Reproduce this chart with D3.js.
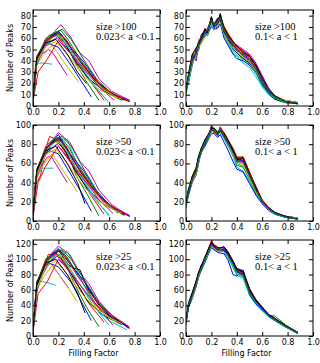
<!DOCTYPE html>
<html>
<head>
<meta charset="utf-8">
<script src="https://cdn.jsdelivr.net/npm/d3@7"></script>
<style>
  body { margin: 0; background: #fff; }
  svg { display: block; }
  .tick text { font-family: "DejaVu Sans", sans-serif; font-size: 8px; fill: #000; }
  .tick line { stroke: #000; }
</style>
</head>
<body>
<div id="chart"></div>
<script>
// matplotlib classic colour cycle
const lineColors = ['#0000ff', '#008000', '#ff0000', '#00bfbf', '#bf00bf', '#bfbf00', '#000000'];

// left column: 0.023 < a < 0.1, each line is [filling factor, number of peaks]
const lowA100 = [
  [[0,4],[0.02,33],[0.05,44],[0.1,55],[0.15,61],[0.21,65],[0.26,58],[0.32,47],[0.4,36],[0.5,20],[0.6,11],[0.76,4]],
  [[0,5],[0.02,34],[0.05,43],[0.1,58],[0.15,62],[0.21,63],[0.27,52],[0.35,35],[0.43,20],[0.52,5]],
  [[0,6],[0.02,35],[0.05,44],[0.09,56],[0.13,63],[0.19,62],[0.26,52],[0.35,38],[0.45,22],[0.56,5]],
  [[0,3],[0.03,38],[0.09,38],[0.15,37]],
  [[0,4],[0.03,39],[0.07,46],[0.12,50],[0.15,48],[0.27,27]],
  [[0,5],[0.03,37],[0.08,45],[0.15,54],[0.25,38],[0.36,21]],
  [[0,5],[0.03,41],[0.07,47],[0.12,58],[0.18,63],[0.25,56],[0.33,40],[0.43,25],[0.55,14],[0.7,5]],
  [[0,5],[0.03,43],[0.06,45],[0.1,53],[0.13,55],[0.2,52],[0.3,36],[0.38,22],[0.46,8]],
  [[0,6],[0.03,41],[0.08,52],[0.15,63],[0.22,67],[0.28,58],[0.38,40],[0.5,22],[0.6,12],[0.7,6]],
  [[0,4],[0.04,30],[0.11,41],[0.2,58],[0.3,46],[0.42,31],[0.55,16],[0.65,9],[0.76,4]],
  [[0,5],[0.03,39],[0.1,55],[0.17,62],[0.22,61],[0.3,48],[0.42,28],[0.52,13],[0.6,3]],
  [[0,6],[0.03,42],[0.1,57],[0.17,66],[0.22,72],[0.29,62],[0.37,47],[0.44,40],[0.52,24],[0.62,13],[0.76,5]],
  [[0,4],[0.03,40],[0.1,56],[0.17,63],[0.23,60],[0.33,44],[0.45,27],[0.55,15],[0.67,7]],
  [[0,6],[0.03,44],[0.1,58],[0.2,66],[0.28,55],[0.38,38],[0.48,24],[0.6,13],[0.72,5]],
  [[0,5],[0.03,40],[0.1,57],[0.15,62],[0.21,65],[0.28,54],[0.4,39],[0.52,20],[0.64,10],[0.76,5]],
  [[0,5],[0.03,41],[0.1,60],[0.17,65],[0.23,68],[0.3,59],[0.4,41],[0.5,24],[0.6,13],[0.67,6]],
  [[0,5],[0.03,39],[0.1,58],[0.2,64],[0.26,59],[0.35,43],[0.45,29],[0.55,16],[0.65,10],[0.76,4]],
  [[0,4],[0.03,38],[0.1,54],[0.2,62],[0.25,58],[0.35,40],[0.48,18],[0.58,5]],
  [[0,5],[0.03,37],[0.1,54],[0.19,60],[0.3,46],[0.42,30],[0.52,17],[0.64,5]],
  [[0,5],[0.03,39],[0.1,53],[0.18,57],[0.28,44],[0.4,27],[0.5,16],[0.6,10],[0.7,6]],
  [[0,5],[0.03,42],[0.1,56],[0.18,59],[0.27,46],[0.35,30],[0.42,20]]
];

const lowA50 = [
  [[0,5],[0.02,42],[0.05,55],[0.1,70],[0.15,80],[0.21,86],[0.26,78],[0.32,62],[0.4,48],[0.5,28],[0.6,15],[0.76,5]],
  [[0,6],[0.02,43],[0.05,54],[0.1,74],[0.15,82],[0.2,84],[0.27,70],[0.35,45],[0.43,27],[0.52,5]],
  [[0,6],[0.03,40],[0.06,48],[0.1,75],[0.13,88],[0.19,85],[0.26,70],[0.35,50],[0.45,28],[0.56,7]],
  [[0,4],[0.03,45],[0.07,55],[0.16,55]],
  [[0,5],[0.03,48],[0.07,58],[0.11,66],[0.14,68],[0.27,40]],
  [[0,5],[0.03,47],[0.08,58],[0.15,70],[0.25,50],[0.35,30]],
  [[0,6],[0.03,50],[0.07,60],[0.12,75],[0.18,84],[0.25,74],[0.33,53],[0.43,33],[0.55,18],[0.72,6]],
  [[0,5],[0.03,52],[0.06,58],[0.1,70],[0.13,73],[0.2,70],[0.3,48],[0.38,30],[0.46,10]],
  [[0,6],[0.03,51],[0.08,68],[0.15,82],[0.22,87],[0.28,77],[0.38,53],[0.5,30],[0.6,17],[0.7,8]],
  [[0,4],[0.04,40],[0.1,57],[0.2,78],[0.3,62],[0.42,40],[0.55,21],[0.65,12],[0.76,5]],
  [[0,5],[0.03,50],[0.1,72],[0.17,82],[0.27,85],[0.32,68],[0.42,38],[0.52,18],[0.6,5]],
  [[0,6],[0.03,53],[0.1,75],[0.17,87],[0.2,92],[0.29,82],[0.37,62],[0.44,52],[0.52,32],[0.62,17],[0.76,5]],
  [[0,4],[0.03,50],[0.1,73],[0.17,83],[0.23,80],[0.33,58],[0.45,36],[0.55,20],[0.67,9]],
  [[0,6],[0.03,54],[0.1,76],[0.2,87],[0.28,72],[0.38,50],[0.48,32],[0.6,17],[0.72,7]],
  [[0,5],[0.03,50],[0.1,74],[0.15,82],[0.2,90],[0.28,72],[0.4,52],[0.52,27],[0.64,13],[0.76,6]],
  [[0,5],[0.03,51],[0.1,78],[0.17,86],[0.23,88],[0.3,78],[0.4,54],[0.5,32],[0.6,17],[0.67,8]],
  [[0,5],[0.03,49],[0.1,76],[0.2,85],[0.26,78],[0.35,57],[0.45,38],[0.55,21],[0.65,13],[0.76,5]],
  [[0,4],[0.03,48],[0.1,70],[0.2,82],[0.25,77],[0.35,52],[0.48,24],[0.6,6]],
  [[0,5],[0.03,47],[0.1,70],[0.19,80],[0.3,60],[0.42,40],[0.52,22],[0.63,8]],
  [[0,5],[0.03,49],[0.1,69],[0.18,75],[0.28,58],[0.4,36],[0.5,22],[0.6,14],[0.7,8]],
  [[0,5],[0.03,52],[0.1,73],[0.18,78],[0.27,60],[0.35,40],[0.41,18]]
];

const lowA25 = [
  [[0,6],[0.02,50],[0.05,70],[0.1,90],[0.15,100],[0.2,112],[0.26,104],[0.32,88],[0.4,72],[0.5,45],[0.6,27],[0.76,10]],
  [[0,7],[0.02,52],[0.04,72],[0.1,95],[0.15,104],[0.2,106],[0.27,88],[0.35,60],[0.43,35],[0.52,12]],
  [[0,7],[0.03,60],[0.07,85],[0.12,106],[0.19,107],[0.26,92],[0.35,68],[0.45,40],[0.56,18]],
  [[0,5],[0.03,72],[0.1,70],[0.18,66]],
  [[0,6],[0.03,62],[0.07,78],[0.11,90],[0.14,95],[0.28,62]],
  [[0,6],[0.03,60],[0.08,76],[0.15,92],[0.25,70],[0.35,44]],
  [[0,7],[0.03,64],[0.07,80],[0.12,98],[0.18,108],[0.25,96],[0.33,72],[0.43,45],[0.55,27],[0.7,15]],
  [[0,6],[0.03,66],[0.06,75],[0.1,92],[0.13,95],[0.2,90],[0.3,70],[0.38,45],[0.46,20]],
  [[0,7],[0.03,65],[0.08,88],[0.15,105],[0.22,112],[0.28,100],[0.38,72],[0.5,40],[0.6,24],[0.7,15]],
  [[0,5],[0.04,55],[0.11,70],[0.2,100],[0.3,82],[0.42,56],[0.55,32],[0.65,20],[0.76,12]],
  [[0,6],[0.03,64],[0.1,92],[0.17,104],[0.27,110],[0.32,95],[0.42,60],[0.52,30],[0.6,14]],
  [[0,7],[0.03,68],[0.1,98],[0.17,112],[0.2,117],[0.29,106],[0.37,82],[0.44,68],[0.52,45],[0.62,27],[0.75,10]],
  [[0,5],[0.03,64],[0.1,94],[0.17,106],[0.23,102],[0.33,76],[0.45,48],[0.55,30],[0.67,16]],
  [[0,7],[0.03,70],[0.1,98],[0.2,112],[0.28,92],[0.33,88],[0.37,86],[0.43,62],[0.52,40],[0.6,26],[0.72,15]],
  [[0,6],[0.03,64],[0.1,96],[0.15,106],[0.2,114],[0.28,96],[0.4,72],[0.52,42],[0.64,24],[0.76,10]],
  [[0,6],[0.03,66],[0.1,100],[0.17,110],[0.23,112],[0.3,100],[0.4,74],[0.5,48],[0.6,28],[0.67,18]],
  [[0,6],[0.03,62],[0.1,98],[0.2,110],[0.26,102],[0.35,78],[0.45,56],[0.55,36],[0.65,24],[0.75,13]],
  [[0,5],[0.03,61],[0.1,92],[0.2,106],[0.25,100],[0.35,72],[0.48,38],[0.6,20],[0.74,8]],
  [[0,6],[0.03,60],[0.1,92],[0.19,104],[0.3,82],[0.42,56],[0.52,36],[0.63,14]],
  [[0,6],[0.03,62],[0.1,90],[0.18,98],[0.28,78],[0.4,52],[0.5,36],[0.6,24],[0.7,16]],
  [[0,6],[0.03,66],[0.1,95],[0.18,100],[0.27,80],[0.35,56],[0.41,30]]
];

// right column: 0.1 < a < 1, all lines share one filling factor grid
const ffGrid = [0, 0.02, 0.05, 0.08, 0.1, 0.12, 0.15, 0.17, 0.2, 0.22, 0.25, 0.27, 0.3, 0.33, 0.37, 0.4, 0.45, 0.5, 0.55, 0.6, 0.65, 0.7, 0.78, 0.88];

const highA100 = [
  [13,27,44,40,57,58,66,63,77,70,72,80,69,63,55,50,47,44,36,24,14,8,4,3],
  [16,21,38,49,51,61,63,67,73,72,77,76,62,57,50,48,42,38,31,20,12,7,4,2],
  [10,28,46,43,58,56,68,66,78,68,70,81,70,64,57,53,49,45,37,26,15,9,5,3],
  [18,20,36,47,50,59,62,62,71,71,74,74,62,55,47,44,38,34,26,17,10,6,3,2],
  [14,29,45,42,55,60,69,64,76,73,78,77,66,61,56,54,50,46,38,27,16,9,4,3],
  [9,25,40,46,59,57,62,70,72,74,71,78,71,65,58,53,45,40,31,20,13,7,4,2],
  [16,24,37,50,52,63,67,66,79,69,73,82,66,59,51,47,42,38,30,19,11,6,3,2],
  [12,22,43,44,50,60,61,65,70,68,69,73,60,54,46,42,40,36,29,19,12,7,4,2],
  [15,27,39,48,56,57,66,63,75,72,76,79,67,62,54,51,44,40,32,21,13,8,4,3],
  [19,23,44,52,53,62,64,68,78,69,74,78,70,64,57,52,47,43,35,24,14,8,5,3],
  [11,21,42,45,51,56,65,67,73,67,72,76,64,57,49,45,41,37,29,18,11,7,3,2],
  [15,26,41,48,57,62,64,69,76,73,75,79,68,62,55,51,44,40,34,23,13,8,4,3],
  [14,23,38,44,53,55,61,64,74,70,71,75,63,57,51,48,43,39,31,22,14,9,5,3],
  [12,28,46,51,56,60,68,65,79,71,77,80,69,63,57,53,48,44,36,25,15,9,4,2],
  [17,25,41,46,54,59,64,66,75,70,73,77,65,60,53,49,46,42,33,22,13,8,4,2],
  [13,26,43,47,55,58,65,67,76,72,74,78,67,60,54,50,45,41,34,23,14,8,4,3]
];

const highA50 = [
  [17,31,45,50,65,72,83,86,96,93,90,97,91,82,71,63,65,49,33,21,13,8,5,2],
  [14,33,41,56,68,71,85,84,98,92,93,93,87,79,69,58,56,43,29,19,12,7,4,2],
  [20,28,47,49,61,76,79,89,95,97,88,98,92,85,75,66,67,51,36,22,14,9,5,3],
  [15,32,42,54,69,70,85,85,93,96,92,92,86,79,67,56,52,41,28,18,12,7,4,2],
  [19,27,40,48,66,75,80,84,98,93,89,96,90,84,74,65,62,46,34,20,13,8,5,2],
  [13,31,47,57,63,70,83,88,94,97,93,97,91,81,70,61,60,45,31,20,12,8,4,2],
  [18,34,42,51,67,74,84,85,99,94,90,94,91,80,73,65,66,50,36,21,14,8,5,3],
  [16,28,41,48,61,71,78,83,91,91,87,90,82,74,62,54,51,39,27,18,11,7,4,2],
  [18,32,45,54,64,75,81,88,97,96,93,97,88,83,74,64,65,47,34,21,13,8,5,2],
  [21,29,46,55,67,72,84,89,96,93,89,96,92,85,76,67,66,51,35,22,14,9,5,3],
  [14,27,43,50,63,73,80,84,94,92,88,95,86,78,69,60,57,44,30,19,12,7,4,2],
  [17,30,44,53,66,73,83,87,97,96,90,98,88,82,71,62,61,46,33,20,13,8,5,2],
  [16,31,40,49,62,70,82,85,93,95,91,92,89,80,69,61,58,45,31,20,13,8,5,3],
  [19,33,47,55,68,76,85,89,96,97,92,95,91,84,74,64,65,49,34,21,14,9,5,2],
  [17,29,43,52,64,72,81,86,95,94,90,94,88,81,72,62,63,47,33,20,13,8,5,2],
  [16,30,44,51,65,74,82,87,96,94,91,96,89,82,71,63,62,48,32,21,13,8,4,2]
];

const highA25 = [
  [18,41,52,69,79,89,99,109,121,115,114,111,113,105,94,84,81,58,45,36,27,22,13,4],
  [15,43,51,72,84,86,103,106,118,116,111,114,109,103,91,81,77,55,42,33,26,21,12,4],
  [21,37,56,65,78,92,98,111,122,118,115,110,114,109,97,87,84,61,48,37,28,23,14,5],
  [16,42,50,70,82,85,102,105,117,113,110,113,110,102,89,79,75,53,41,33,25,20,12,4],
  [20,38,55,66,77,90,101,110,123,117,112,112,115,108,96,86,82,60,47,36,27,22,13,4],
  [14,44,57,71,84,87,104,107,116,116,115,109,112,104,92,82,78,56,44,35,26,21,13,4],
  [18,39,51,67,81,92,97,110,121,118,111,115,116,110,98,88,85,62,47,38,28,22,14,5],
  [17,37,49,64,77,85,96,104,115,112,109,108,107,99,80,78,86,54,42,34,26,20,12,3],
  [19,42,55,70,80,89,100,109,120,115,114,111,113,106,95,85,80,59,45,36,27,26,15,4],
  [22,41,56,71,84,91,103,111,124,119,116,112,112,109,97,86,82,61,46,37,28,22,13,5],
  [15,40,51,66,80,86,98,106,119,114,113,110,110,103,91,81,77,56,43,34,26,21,12,3],
  [18,39,54,69,79,89,102,109,120,117,112,113,114,107,94,85,81,57,45,36,27,22,13,4],
  [17,42,50,65,78,88,99,106,117,114,110,111,111,104,93,83,79,58,44,35,27,21,13,4],
  [19,43,57,72,83,91,103,111,122,118,115,115,116,108,97,87,83,60,46,37,28,23,14,4],
  [18,40,53,68,81,88,100,108,120,116,113,112,112,106,95,84,80,58,45,36,27,22,13,4],
  [16,41,52,67,80,87,101,107,119,115,112,113,111,105,93,83,79,57,44,35,26,21,13,4]
];

const xTicks = [0, 0.2, 0.4, 0.6, 0.8, 1.0];
const yMaxByRow = [85, 100, 125];
const yTicksByRow = [d3.range(0, 81, 10), d3.range(0, 101, 20), d3.range(0, 121, 20)];
const sizeLabels = ['size >100', 'size >50', 'size >25'];
const rangeLabels = ['0.023< a <0.1', '0.1< a < 1'];

const toPairs = rows => rows.map(r => r.map((v, i) => [ffGrid[i], v]));
const panelData = [
  [lowA100, toPairs(highA100)],
  [lowA50, toPairs(highA50)],
  [lowA25, toPairs(highA25)]
];

const W = 320, H = 363;
const colX = [33, 186];
const rowY = [10, 125, 240];
const pw = 127, ph = 96;

const svg = d3.select('#chart').append('svg')
  .attr('width', W)
  .attr('height', H);

panelData.forEach((rowData, r) => {
  rowData.forEach((lines, c) => {
    const g = svg.append('g').attr('transform', `translate(${colX[c]}, ${rowY[r]})`);
    const x = d3.scaleLinear().domain([0, 1]).range([0, pw]);
    const y = d3.scaleLinear().domain([0, yMaxByRow[r]]).range([ph, 0]);

    const clipId = `clip-${r}-${c}`;
    g.append('clipPath').attr('id', clipId)
      .append('rect').attr('width', pw).attr('height', ph);

    const line = d3.line()
      .defined(d => d[1] != null)
      .x(d => x(d[0]))
      .y(d => y(d[1]));

    g.append('g').attr('clip-path', `url(#${clipId})`)
      .selectAll('path')
      .data(lines)
      .join('path')
      .attr('fill', 'none')
      .attr('stroke', (d, i) => lineColors[i % lineColors.length])
      .attr('stroke-width', 1)
      .attr('d', line);

    // ticks point inward on all four sides
    const fmt = d3.format('.1f');
    g.append('g').attr('transform', `translate(0, ${ph})`)
      .call(d3.axisBottom(x).tickValues(xTicks).tickFormat(fmt).tickSizeInner(-4).tickSizeOuter(0).tickPadding(3))
      .call(a => a.select('.domain').remove());
    g.append('g')
      .call(d3.axisTop(x).tickValues(xTicks).tickFormat('').tickSizeInner(-4).tickSizeOuter(0))
      .call(a => a.select('.domain').remove());
    g.append('g')
      .call(d3.axisLeft(y).tickValues(yTicksByRow[r]).tickSizeInner(-4).tickSizeOuter(0).tickPadding(2))
      .call(a => a.select('.domain').remove());
    g.append('g').attr('transform', `translate(${pw}, 0)`)
      .call(d3.axisRight(y).tickValues(yTicksByRow[r]).tickFormat('').tickSizeInner(-4).tickSizeOuter(0))
      .call(a => a.select('.domain').remove());

    g.append('rect')
      .attr('width', pw).attr('height', ph)
      .attr('fill', 'none').attr('stroke', '#000').attr('stroke-width', 1);

    const tx = c === 0 ? 63 : 69;
    const note = g.append('text')
      .attr('y', 19.5)
      .attr('font-family', '"Liberation Serif", "Times New Roman", serif')
      .attr('font-size', 10.5)
      .attr('fill', '#000');
    note.append('tspan').attr('x', tx).text(sizeLabels[r]);
    note.append('tspan').attr('x', tx).attr('dy', 10.5).text(rangeLabels[c]);

    if (c === 0) {
      g.append('text')
        .attr('transform', `translate(-20, ${ph / 2}) rotate(-90)`)
        .attr('text-anchor', 'middle')
        .attr('font-family', '"DejaVu Sans", sans-serif')
        .attr('font-size', 8)
        .text('Number of Peaks');
    }
    if (r === 2) {
      g.append('text')
        .attr('x', pw / 2 - 3)
        .attr('y', ph + 20)
        .attr('text-anchor', 'middle')
        .attr('font-family', '"DejaVu Sans", sans-serif')
        .attr('font-size', 8)
        .text('Filling Factor');
    }
  });
});
</script>
</body>
</html>
